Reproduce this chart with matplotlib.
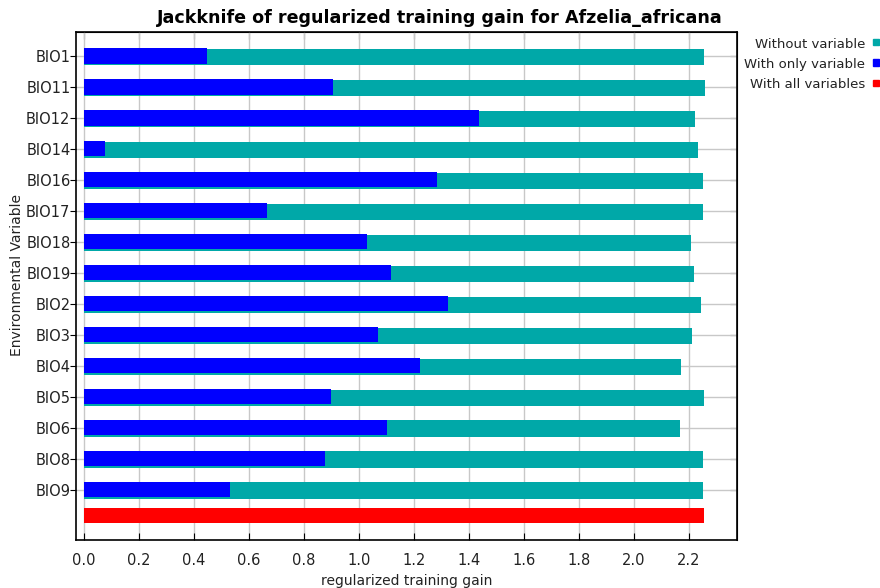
import matplotlib
matplotlib.use("Agg")
import matplotlib.pyplot as plt
from matplotlib.patches import Rectangle

# data
variables = ['BIO1', 'BIO11', 'BIO12', 'BIO14', 'BIO16', 'BIO17', 'BIO18', 'BIO19',
             'BIO2', 'BIO3', 'BIO4', 'BIO5', 'BIO6', 'BIO8', 'BIO9']
without_var = [2.255, 2.258, 2.222, 2.233, 2.251, 2.251, 2.207, 2.218,
               2.244, 2.211, 2.171, 2.255, 2.167, 2.251, 2.251]
only_var = [0.447, 0.905, 1.436, 0.076, 1.284, 0.665, 1.029, 1.116,
            1.324, 1.069, 1.222, 0.898, 1.102, 0.876, 0.531]
all_vars = 2.256
legend_labels = ['Without variable', 'With only variable', 'With all variables']

TEAL = '#00a8a8'
BLUE = '#0000ff'
RED = '#ff0000'
TXT = '#222222'

plt.rcParams['font.family'] = 'DejaVu Sans'

fig = plt.figure(figsize=(8.8, 5.88), dpi=100)
ax = fig.add_axes([0.0864, 0.0816, 0.7511, 0.864])

rows = list(range(len(variables)))
ax.barh([r + 0.03 for r in rows], without_var, height=0.52, color=TEAL, zorder=2)
ax.barh(rows, only_var, height=0.49, color=BLUE, zorder=3)
ax.barh([14.84], [all_vars], height=0.49, color=RED, zorder=3)

ax.set_xlim(-0.029, 2.375)
ax.set_ylim(15.63, -0.775)

xt = [i * 0.2 for i in range(12)]
ax.set_xticks(xt)
ax.set_xticklabels(['%.1f' % v for v in xt], fontsize=10.5, color=TXT)
ax.set_yticks(rows)
ax.set_yticklabels(variables, fontsize=10.5, color=TXT)
ax.tick_params(axis='x', direction='in', length=5, pad=9, top=False)
ax.tick_params(axis='y', direction='out', length=4, pad=0, right=False)

top = ax.secondary_xaxis('top')
top.set_xticks(xt)
top.tick_params(direction='in', length=5, labeltop=False)
right = ax.secondary_yaxis('right')
right.set_yticks(rows)
right.tick_params(direction='in', length=5, labelright=False)

ax.grid(True, color='#c8c8c8', linewidth=1, zorder=0)
ax.set_axisbelow(True)
for s in ax.spines.values():
    s.set_color('black')
    s.set_linewidth(1.2)

ax.set_xlabel('regularized training gain', fontsize=10, color=TXT)
ax.xaxis.set_label_coords(0.5, -0.066)
ax.set_ylabel('Environmental Variable', fontsize=10, color=TXT)
ax.yaxis.set_label_coords(-0.078, 0.522)

fig.text(0.5, 0.969, 'Jackknife of regularized training gain for Afzelia_africana',
         ha='center', va='center', fontsize=12.6, fontweight='bold')

# legend outside on the right
for i, (lab, col) in enumerate(zip(legend_labels, [TEAL, BLUE, RED])):
    y = 1 - (44 + i * 20.5) / 588
    fig.text(865 / 880, y, lab, ha='right', va='center', fontsize=9.5, color=TXT)
    fig.patches.append(Rectangle((873 / 880, y - 1 / 588), 6 / 880, 6 / 588,
                                 transform=fig.transFigure, color=col, figure=fig))

fig.savefig('out.png', dpi=100)
